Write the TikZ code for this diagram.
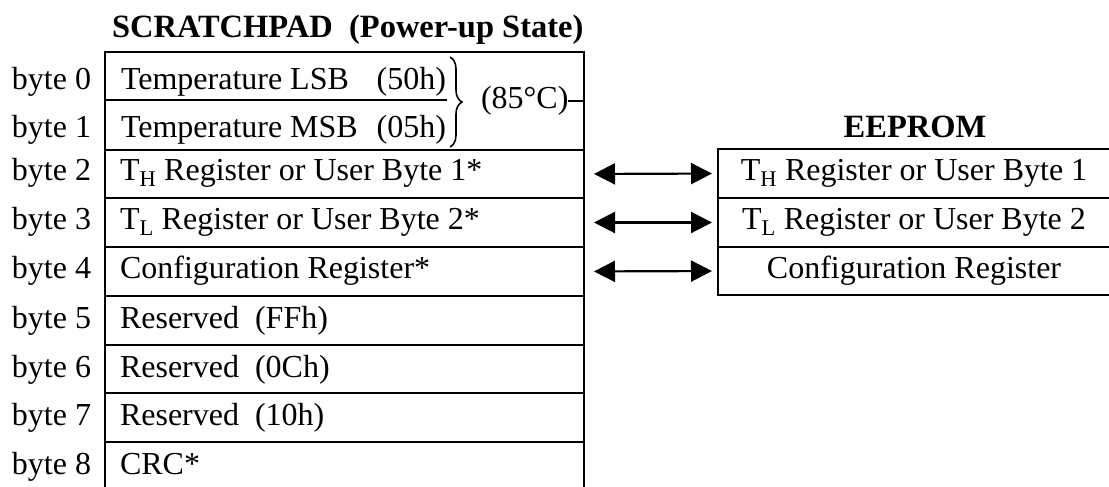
\documentclass[tikz,border=0pt]{standalone}
\usepackage{fontspec}
\setmainfont{Liberation Serif}
\usetikzlibrary{arrows.meta,decorations.pathreplacing}
\begin{document}
\begin{tikzpicture}[x=1pt,y=-1pt,
  cellbox/.style={draw, line width=2.6pt, inner sep=0pt, outer sep=0pt, anchor=north west},
  sbox/.style={cellbox, minimum width=479pt},
  ebox/.style={cellbox, minimum width=393pt},
  txt/.style={inner sep=0pt, outer sep=0pt, anchor=base west, font=\fontsize{32}{38}\selectfont},
  rtxt/.style={txt, anchor=base east},
  ctxt/.style={txt, anchor=base},
  ttl/.style={txt, font=\fontsize{32.5}{38}\selectfont\bfseries},
  thin/.style={line width=2pt},
  link/.style={{Triangle[length=21pt,width=21pt]}-{Triangle[length=21pt,width=21pt]}, line width=2.2pt, shorten <=10pt, shorten >=6pt}
]
\useasboundingbox[fill=white] (0,0) rectangle (1109,487);

% titles
\node[ttl] (tscr) at (112,38) {SCRATCHPAD\ \ (Power-up State)};
\node[ttl, anchor=base] (teep) at (915,137) {EEPROM};

% scratchpad rows
\node[sbox, minimum height=98pt] (s01) at (105,52) {};
\coordinate (sep) at (447,100);
\draw[line width=2.6pt] (s01.west |- sep) -- (sep);
\node[sbox, minimum height=48pt] (s2) at (105,150) {};
\node[sbox, minimum height=49pt] (s3) at (105,198) {};
\node[sbox, minimum height=49pt] (s4) at (105,247) {};
\node[sbox, minimum height=49pt] (s5) at (105,296) {};
\node[sbox, minimum height=48pt] (s6) at (105,345) {};
\node[sbox, minimum height=49pt] (s7) at (105,393) {};
\node[sbox, minimum height=49pt] (s8) at (105,442) {};

% byte labels
\node[txt] (b0) at (12,90) {byte 0};
\node[txt] (b1) at (12,137) {byte 1};
\node[txt] (b2) at (12,180) {byte 2};
\node[txt] (b3) at (12,229) {byte 3};
\node[txt] (b4) at (12,278) {byte 4};
\node[txt] (b5) at (12,328) {byte 5};
\node[txt] (b6) at (12,377) {byte 6};
\node[txt] (b7) at (12,425) {byte 7};
\node[txt] (b8) at (12,474) {byte 8};

% scratchpad contents
\node[txt] (c0) at (121,90) {Temperature LSB};
\node[rtxt] (c0v) at (446,90) {(50h)};
\node[txt] (c1) at (121,137) {Temperature MSB};
\node[rtxt] (c1v) at (446,137) {(05h)};
\node[txt] (c2) at (120,180) {T\textsubscript{H} Register or User Byte 1*};
\node[txt] (c3) at (120,229) {T\textsubscript{L} Register or User Byte 2*};
\node[txt] (c4) at (120,278) {Configuration Register*};
\node[txt] (c5) at (120,328) {Reserved\ \ (FFh)};
\node[txt] (c6) at (120,377) {Reserved\ \ (0Ch)};
\node[txt] (c7) at (120,425) {Reserved\ \ (10h)};
\node[txt] (c8) at (120,474) {CRC*};

% brace and temperature
\draw[decorate, decoration={brace, amplitude=12pt}, line width=1.6pt] (450,57) -- (450,147);
\node[txt] (t85) at (481,109) {(85°C)};
\coordinate (c85) at (584,101);
\draw[thin] (t85.east |- c85) -- (c85);

% EEPROM rows
\node[ebox, minimum height=49pt] (e2) at (718,149) {};
\node[ebox, minimum height=49pt] (e3) at (718,198) {};
\node[ebox, minimum height=48pt] (e4) at (718,247) {};
\node[ctxt] (et2) at (914,180) {T\textsubscript{H} Register or User Byte 1};
\node[ctxt] (et3) at (914,229) {T\textsubscript{L} Register or User Byte 2};
\node[ctxt] (et4) at (914,278) {Configuration Register};

% links
\draw[link] (s2.east) -- (e2.west);
\draw[link] (s3.east) -- (e3.west);
\draw[link] (s4.east) -- (e4.west);
\end{tikzpicture}
\end{document}
